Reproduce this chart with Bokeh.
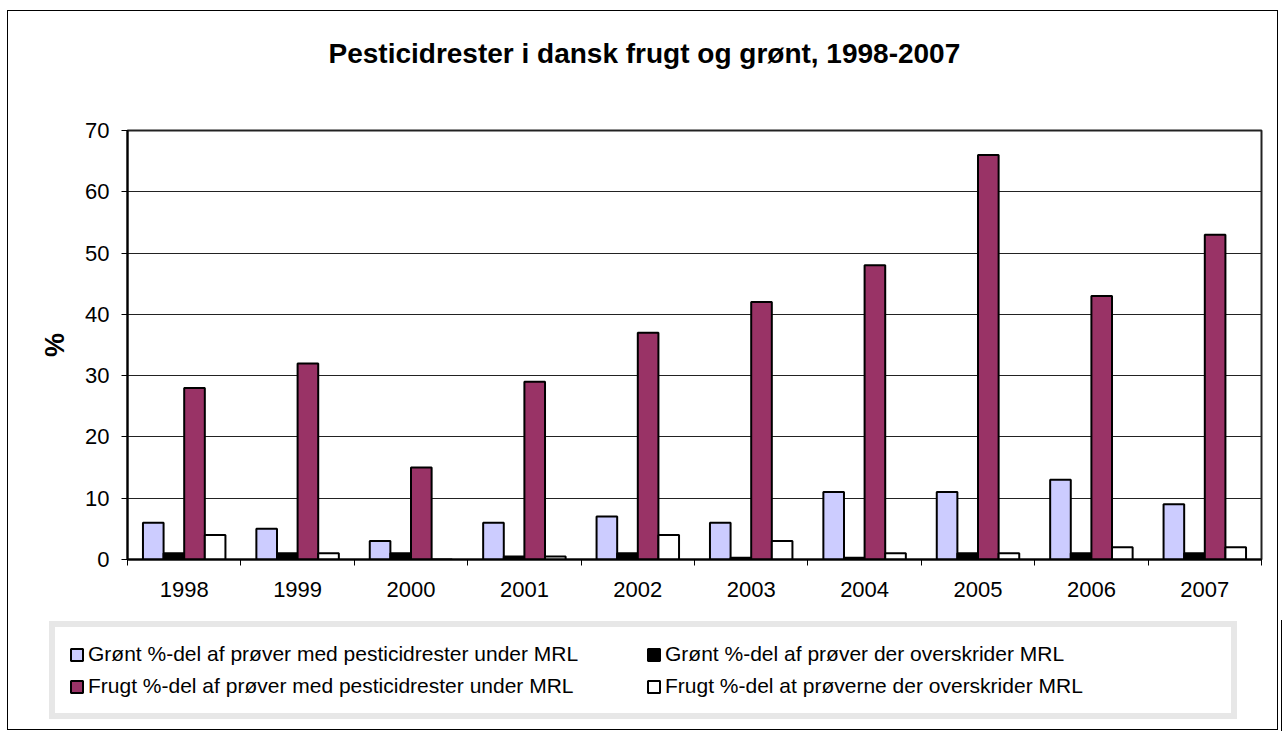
from bokeh.plotting import figure
from bokeh.models import ColumnDataSource, FixedTicker, Legend, LegendItem, Range1d, Title
from bokeh.embed import file_html
from bokeh.resources import INLINE

# ---- data ----
years = ["1998", "1999", "2000", "2001", "2002", "2003", "2004", "2005", "2006", "2007"]
groent_under = [6, 5, 3, 6, 7, 6, 11, 11, 13, 9]
groent_over = [1, 1, 1, 0.5, 1, 0.3, 0.3, 1, 1, 1]
frugt_under = [28, 32, 15, 29, 37, 42, 48, 66, 43, 53]
frugt_over = [4, 1, 0, 0.5, 4, 3, 1, 1, 2, 2]

series_labels = [
    "Grønt %-del af prøver med pesticidrester under MRL",
    "Grønt %-del af prøver der overskrider MRL",
    "Frugt %-del af prøver med pesticidrester under MRL",
    "Frugt %-del at prøverne der overskrider MRL",
]
series_values = [groent_under, groent_over, frugt_under, frugt_over]
series_colors = ["#CCCCFF", "#000000", "#993366", "#FFFFFF"]

title_text = "Pesticidrester i dansk frugt og grønt, 1998-2007"
y_ticks = [0, 10, 20, 30, 40, 50, 60, 70]

FONT = "Liberation Sans"

# ---------------- main chart ----------------
p = figure(
    width=1282, height=620,
    x_range=Range1d(0, len(years)), y_range=Range1d(0, 70),
    output_backend="svg", toolbar_location=None,
    min_border_left=127, min_border_right=21, min_border_top=130, min_border_bottom=61,
)

# spacer (nearest the frame) then the real title above it
p.add_layout(Title(text=" ", text_font_size="1px", standoff=54), "above")
p.title = Title(text=title_text, align="left", offset=201, standoff=10,
                text_font=FONT, text_font_size="28px", text_font_style="bold",
                text_color="#000000")

n = len(series_values)
bw = 1 / 5.5
sources = []
for k, (vals, col) in enumerate(zip(series_values, series_colors)):
    xs = [i + 0.5 + (k - (n - 1) / 2) * bw for i in range(len(years))]
    src = ColumnDataSource(dict(x=xs, top=vals))
    sources.append(src)
    p.vbar(x="x", top="top", bottom=0, width=bw, source=src,
           fill_color=col, line_color="#000000", line_width=2)

p.xaxis.ticker = FixedTicker(ticks=[i + 0.5 for i in range(len(years))],
                             minor_ticks=list(range(len(years) + 1)))
p.xaxis.major_label_overrides = {i + 0.5: y for i, y in enumerate(years)}
p.xaxis.major_tick_line_color = None
p.xaxis.major_tick_out = 0
p.xaxis.major_tick_in = 0
p.xaxis.minor_tick_line_color = "#000000"
p.xaxis.minor_tick_out = 6
p.xaxis.minor_tick_in = 0
p.xaxis.major_label_standoff = 16

p.yaxis.ticker = FixedTicker(ticks=y_ticks)
p.yaxis.minor_tick_line_color = None
p.yaxis.major_tick_out = 6
p.yaxis.major_tick_in = 0
p.yaxis.major_tick_line_color = "#000000"
p.yaxis.major_label_standoff = 12
p.yaxis.axis_label = "%"
p.yaxis.axis_label_text_font = FONT
p.yaxis.axis_label_text_font_size = "27px"
p.yaxis.axis_label_text_font_style = "bold"
p.yaxis.axis_label_text_color = "#000000"
p.yaxis.axis_label_standoff = 12

for ax in (p.xaxis, p.yaxis):
    ax.axis_line_color = "#000000"
    ax.axis_line_width = 2
    ax.major_label_text_font = FONT
    ax.major_label_text_font_size = "22px"
    ax.major_label_text_color = "#000000"

p.xgrid.grid_line_color = None
p.ygrid.grid_line_color = "#222222"
p.ygrid.grid_line_width = 1

p.outline_line_color = "#222222"
p.outline_line_width = 2
p.background_fill_color = "#FFFFFF"
p.border_fill_color = "#FFFFFF"

# ---------------- legend strip (separate root, frame = whole canvas) ----------------
lg = figure(
    width=1282, height=111,
    x_range=Range1d(-100, -99), y_range=Range1d(0, 1),   # proxies lie outside the view
    output_backend="svg", toolbar_location=None,
    x_axis_location=None, y_axis_location=None,
    min_border_left=0, min_border_right=0, min_border_top=0, min_border_bottom=0,
)
lg.grid.visible = False
lg.outline_line_color = None
lg.background_fill_color = "#FFFFFF"
lg.border_fill_color = "#FFFFFF"

legend_renderers = []
for src, col in zip(sources, series_colors):
    legend_renderers.append(
        lg.vbar(x="x", top="top", bottom=0, width=bw, source=src,
                fill_color=col, line_color="#000000", line_width=2))

legend = Legend(
    items=[LegendItem(label=lab, renderers=[r]) for lab, r in zip(series_labels, legend_renderers)],
    orientation="horizontal", ncols=2,
    location=(49, 12),
    label_text_font=FONT, label_text_font_size="21px", label_text_color="#000000",
    glyph_width=15, glyph_height=15, label_standoff=4, label_height=26, label_width=552,
    spacing=6, padding=14, margin=0,
    border_line_color="#D0D0D0", border_line_width=6,
    background_fill_color="#FFFFFF", background_fill_alpha=1.0,
)
lg.add_layout(legend, "center")

# outer chart border, split over the two stacked canvases
p.stylesheets = [":host::after { content: ''; position: absolute; left: 7px; top: 10px; right: 4px; bottom: 0px;"
                 " border: 1px solid #000000; border-bottom: none; pointer-events: none; z-index: 100; }"]
lg.stylesheets = [":host::after { content: ''; position: absolute; left: 7px; top: 0px; right: 4px; bottom: 1px;"
                  " border: 1px solid #000000; border-top: none; pointer-events: none; z-index: 100; }"]

open("out.html", "w").write(file_html([p, lg], INLINE))
